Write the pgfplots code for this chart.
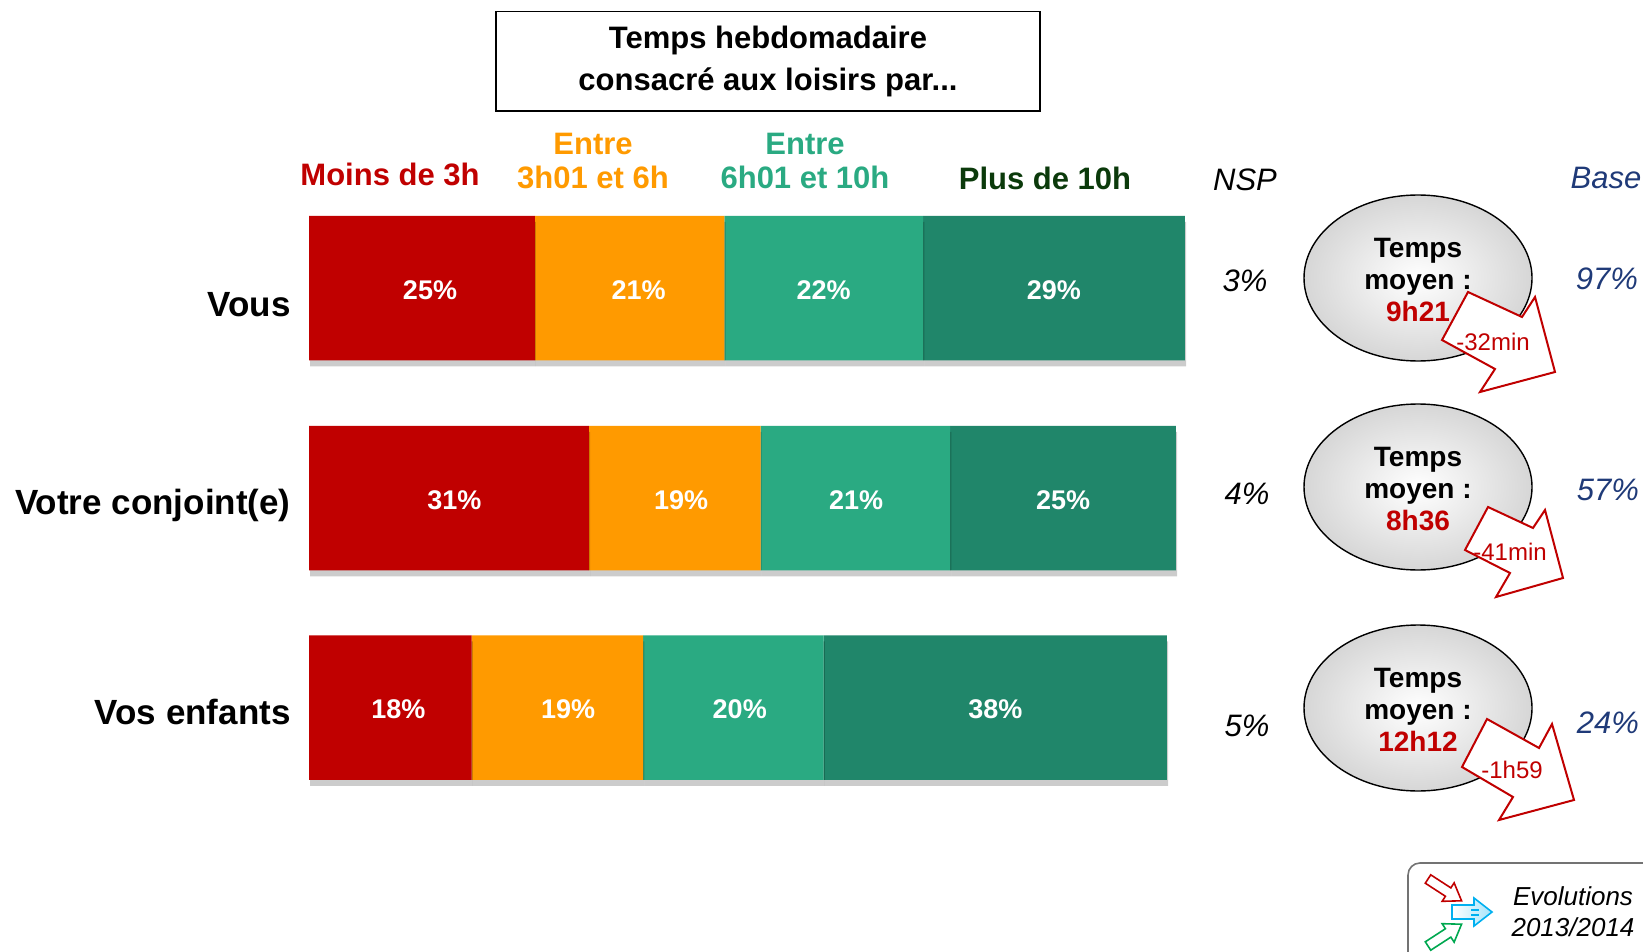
\documentclass[border=0pt]{standalone}
\usepackage{fontspec}
\setmainfont{Liberation Sans}
\usepackage{pgfplots}
\pgfplotsset{compat=1.18}
\usetikzlibrary{shadows}

\definecolor{cRed}{HTML}{C00000}
\definecolor{cOrange}{HTML}{FF9A00}
\definecolor{cTeal}{HTML}{2AAA82}
\definecolor{cDark}{HTML}{20866A}
\definecolor{cGreenTxt}{HTML}{0B3A0B}
\definecolor{cNavy}{HTML}{1F3A78}
\definecolor{cBlue}{HTML}{00B0F0}
\definecolor{cLegGreen}{HTML}{00A850}

\newcommand{\hdr}{\bfseries\fontsize{15.5}{17.3}\selectfont}
\newcommand{\itl}{\itshape\fontsize{15.5}{18}\selectfont}

\pgfplotsset{
  frame/.style={
    at={(0,0)}, anchor=north west,
    width=821.5pt, height=476pt, scale only axis,
    hide axis, clip=false,
    xmin=-34.22, xmax=147.73,
    ymin=0, ymax=952, y dir=reverse,
  },
}

\begin{document}
\begin{tikzpicture}
\useasboundingbox (0,0) rectangle (821.5pt,-476pt);
\begin{axis}[
  frame,
  xbar stacked, bar width=144.5,
  every axis plot/.append style={draw=none,
    drop shadow={shadow xshift=0.6pt, shadow yshift=-3pt, opacity=0.2, fill=black}},
]
% y positions are the bar centres, x the shares in %
\addplot[fill=cRed]    coordinates {(25,288) (31,498) (18,707.5)};
\addplot[fill=cOrange] coordinates {(21,288) (19,498) (19,707.5)};
\addplot[fill=cTeal]   coordinates {(22,288) (21,498) (20,707.5)};
\addplot[fill=cDark]   coordinates {(29,288) (25,498) (38,707.5)};
\end{axis}

% segment labels, near the middle of each segment
\begin{axis}[frame]
\addplot[draw=none, mark=none, nodes near coords, point meta=explicit symbolic,
  every node near coord/.append style={anchor=center, text=white,
    font=\bfseries\fontsize{13.5}{16}\selectfont}]
  coordinates {
  (13.4,290) [25\%] (36.5,290) [21\%] (57,290) [22\%] (82.5,290) [29\%]
  (16.1,500) [31\%] (41.2,500) [19\%] (60.6,500) [21\%] (83.5,500) [25\%]
  (9.9,709.5) [18\%] (28.7,709.5) [19\%] (47.7,709.5) [20\%] (76,709.5) [38\%]
  };
\end{axis}

\begin{scope}[x=0.5pt, y=-0.5pt]
% title box
\draw[line width=0.6pt] (496,11.5) rectangle (1040,111);
\node[align=center, font=\bfseries\fontsize{15.5}{21}\selectfont] at (768,61)
  {Temps hebdomadaire\\consacré aux loisirs par...};

% column headers
\node[text=cRed, font=\hdr] at (390,174) {Moins de 3h};
\node[text=cOrange, font=\hdr, align=center] at (593,161) {Entre\\3h01 et 6h};
\node[text=cTeal, font=\hdr, align=center] at (805,161) {Entre\\6h01 et 10h};
\node[text=cGreenTxt, font=\hdr] at (1045,178) {Plus de 10h};
\node[font=\itl] at (1245,180) {NSP};
\node[text=cNavy, font=\itl] at (1606,178) {Base};

% row labels
\begin{scope}[every node/.style={anchor=east, inner sep=0pt,
    font=\bfseries\fontsize{17.5}{20}\selectfont}]
\node at (291,305) {Vous};
\node at (291,505) {Votre conjoint(e)};
\node at (291,712) {Vos enfants};
\end{scope}

% NSP and base
\node[font=\itl] at (1245,281) {3\%};
\node[font=\itl] at (1247,494) {4\%};
\node[font=\itl] at (1247,726) {5\%};
\node[text=cNavy, font=\itl] at (1607,279) {97\%};
\node[text=cNavy, font=\itl] at (1608,490) {57\%};
\node[text=cNavy, font=\itl] at (1608,723) {24\%};

% mean time bubbles
\foreach \cy/\t in {278/9h21, 487/8h36, 708/12h12}{
  \draw[line width=0.7pt, inner color=white, outer color=black!16]
    (1418,\cy) ellipse [x radius=57pt, y radius=41.5pt];
  \node[align=center, font=\bfseries\fontsize{14}{16}\selectfont] at (1418,\cy+2)
    {Temps\\moyen :\\\textcolor{cRed}{\t}};
}

% evolution arrows
\begin{scope}[draw=cRed, fill=white, line width=1pt]
\filldraw (1468,292) -- (1522,317) -- (1535,297) -- (1555,372) -- (1480,392)
  -- (1495,369) -- (1442,340) -- cycle;
\filldraw (1488,507) -- (1533,528) -- (1545,510) -- (1563,578) -- (1496,597)
  -- (1510,573) -- (1465,550) -- cycle;
\filldraw (1487,719) -- (1539,748) -- (1552,724) -- (1574,800) -- (1499,820)
  -- (1513,797) -- (1462,767) -- cycle;
\end{scope}
\begin{scope}[text=cRed, font=\fontsize{12}{14}\selectfont]
\node at (1493,342) {-32min};
\node at (1510,552) {-41min};
\node at (1512,770) {-1h59};
\end{scope}

% legend box (cut by the page edge)
\draw[black!55, line width=0.8pt, rounded corners=6pt] (1408,863) rectangle (1680,990);
\begin{scope}[shift={(1428,879)}, rotate=-33]
\filldraw[draw=cRed, fill=white, line width=0.8pt]
  (0,-5) -- (24,-5) -- (24,-11) -- (40,0) -- (24,11) -- (24,5) -- (0,5) -- cycle;
\end{scope}
\begin{scope}[shift={(1452,912)}]
\filldraw[draw=cBlue, left color=white, right color=cBlue!35, line width=0.8pt]
  (0,-7) -- (22,-7) -- (22,-14) -- (40,0) -- (22,14) -- (22,7) -- (0,7) -- cycle;
\draw[cBlue, line width=0.6pt] (19,-2) -- (27,-2) (19,3) -- (27,3);
\end{scope}
\begin{scope}[shift={(1428,946)}, rotate=33]
\filldraw[draw=cLegGreen, fill=white, line width=0.8pt]
  (0,-5) -- (24,-5) -- (24,-11) -- (40,0) -- (24,11) -- (24,5) -- (0,5) -- cycle;
\end{scope}
\node[align=center, font=\itshape\fontsize{13}{15.5}\selectfont] at (1573,912)
  {Evolutions\\2013/2014};
\end{scope}
\end{tikzpicture}
\end{document}
